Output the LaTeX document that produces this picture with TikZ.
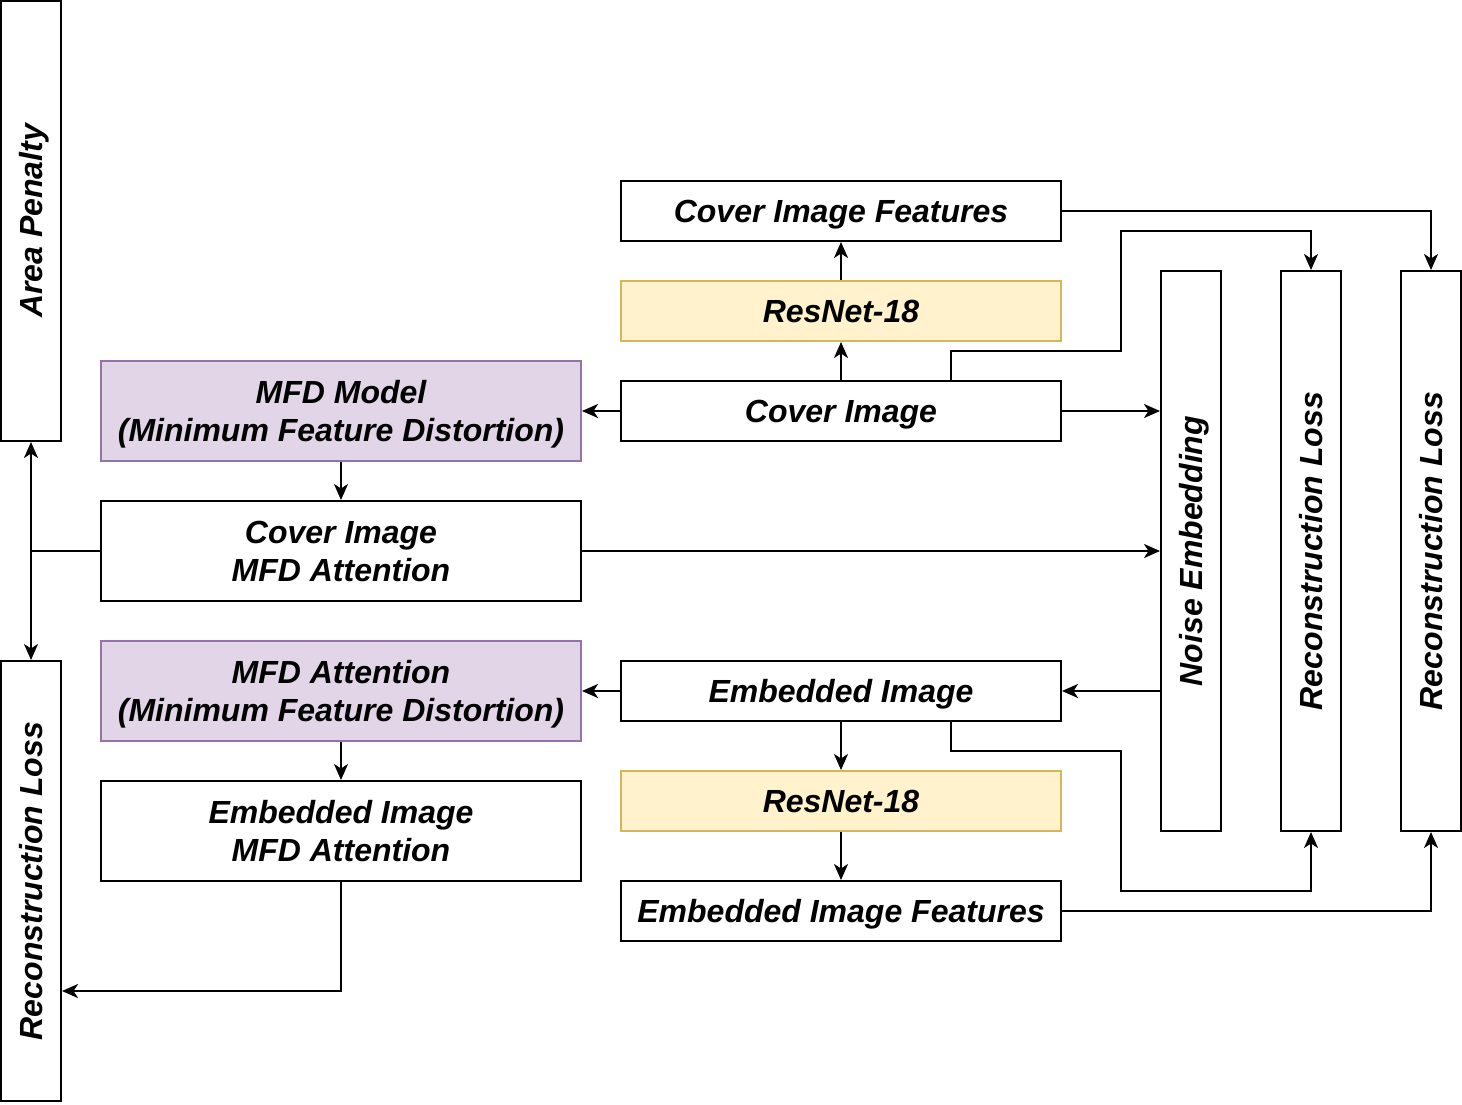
\documentclass[tikz,border=0pt]{standalone}
\usepackage{fontspec}
\setmainfont{Liberation Sans}
\usepackage{graphicx}
\usetikzlibrary{arrows.meta}
\definecolor{purfill}{HTML}{E1D5E7}
\definecolor{purline}{HTML}{9673A6}
\definecolor{yelfill}{HTML}{FFF2CC}
\definecolor{yelline}{HTML}{D6B656}
\newcommand{\mystrut}{\rule[-0.212em]{0pt}{1.117em}}
\begin{document}
\begin{tikzpicture}[x=1pt,y=-1pt,
  box/.style={draw=black, line width=2pt, fill=white, inner sep=0pt, align=center,
    font=\fontsize{32}{38}\selectfont\bfseries\itshape},
  wide/.style={box, minimum width=480pt, minimum height=100pt},
  mid/.style={box, minimum width=440pt, minimum height=60pt},
  tallA/.style={box, minimum width=60pt, minimum height=440pt},
  tallB/.style={box, minimum width=60pt, minimum height=560pt},
  purple/.style={fill=purfill, draw=purline},
  yellow/.style={fill=yelfill, draw=yelline},
  arr/.style={line width=2pt, -{Stealth[length=16pt,width=14pt,inset=4.5pt]}},
  ln/.style={line width=2pt}
]
\useasboundingbox (0,0) rectangle (1462,1104);

% left column
\node[tallA] (ap) at (31,221) {\rotatebox{90}{\mystrut Area Penalty}};
\node[tallA] (rl1) at (31,881) {\rotatebox{90}{\mystrut Reconstruction Loss}};

% MFD column
\node[wide, purple] (mfdm) at (341,411) {\mystrut MFD Model\\\mystrut (Minimum Feature Distortion)};
\node[wide] (cima) at (341,551) {\mystrut Cover Image\\\mystrut MFD Attention};
\node[wide, purple] (mfda) at (341,691) {\mystrut MFD Attention\\\mystrut (Minimum Feature Distortion)};
\node[wide] (eima) at (341,831) {\mystrut Embedded Image\\\mystrut MFD Attention};

% image column
\node[mid] (cif) at (841,211) {\mystrut Cover Image Features};
\node[mid, yellow] (res1) at (841,311) {\mystrut ResNet-18};
\node[mid] (ci) at (841,411) {\mystrut Cover Image};
\node[mid] (ei) at (841,691) {\mystrut Embedded Image};
\node[mid, yellow] (res2) at (841,801) {\mystrut ResNet-18};
\node[mid] (eif) at (841,911) {\mystrut Embedded Image Features};

% right columns
\node[tallB] (ne) at (1191,551) {\rotatebox{90}{\mystrut Noise Embedding}};
\node[tallB] (rl2) at (1311,551) {\rotatebox{90}{\mystrut Reconstruction Loss}};
\node[tallB] (rl3) at (1431,551) {\rotatebox{90}{\mystrut Reconstruction Loss}};

% connectors
\draw[arr] (ci.north) -- (res1.south);
\draw[arr] (res1.north) -- (cif.south);
\draw[arr] (cif.east) -| (rl3.north);
\coordinate (c1) at (951,381);
\draw[arr] (c1) -- (951,351) -| (1121,231) -| (rl2.north);
\draw[arr] (ci.east) -- (ne.west |- ci.east);
\draw[arr] (ci.west) -- (mfdm.east);
\draw[arr] (mfdm.south) -- (cima.north);
\draw[arr] (cima.east) -- (ne.west);
\coordinate (j) at (31,551);
\draw[ln] (cima.west) -- (j);
\draw[arr] (j) -- (ap.south);
\draw[arr] (j) -- (rl1.north);
\draw[arr] (ne.west |- ei.east) -- (ei.east);
\draw[arr] (ei.west) -- (mfda.east);
\draw[arr] (mfda.south) -- (eima.north);
\draw[arr] (eima.south) |- (rl1.east |- 0,991);
\draw[arr] (ei.south) -- (res2.north);
\draw[arr] (res2.south) -- (eif.north);
\coordinate (c2) at (951,721);
\draw[arr] (c2) -- (951,751) -| (1121,891) -| (rl2.south);
\draw[arr] (eif.east) -| (rl3.south);
\end{tikzpicture}
\end{document}
